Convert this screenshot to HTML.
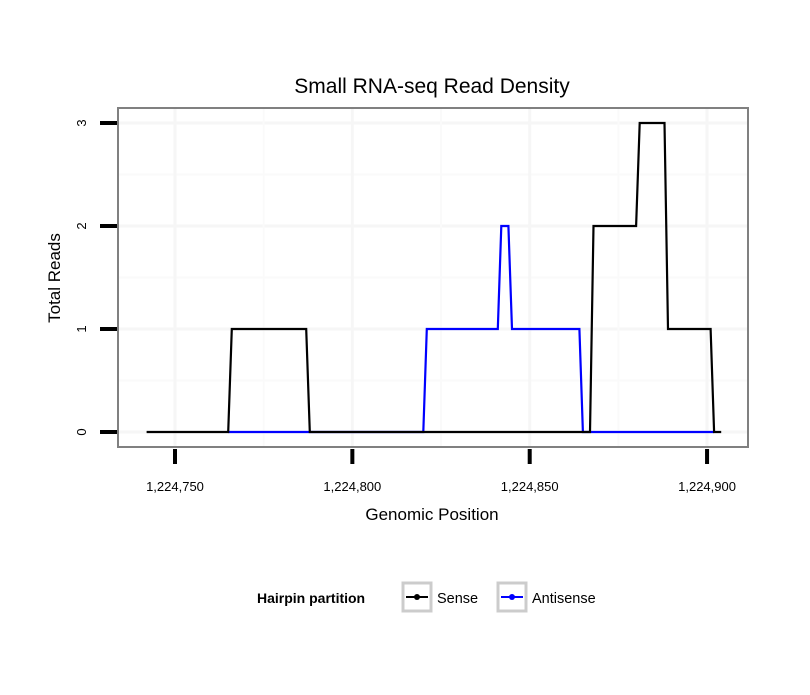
<!DOCTYPE html>
<html><head><meta charset="utf-8"><style>
body{margin:0;background:#fff;font-family:"Liberation Sans",sans-serif}
</style></head><body>
<svg width="810" height="690" xmlns="http://www.w3.org/2000/svg" font-family="Liberation Sans, sans-serif">
<text x="432" y="93" text-anchor="middle" font-size="21">Small RNA-seq Read Density</text>
<rect x="118" y="108" width="630" height="339" fill="#fff"/>
<g id="grid"></g>
<g id="lines"></g>
<rect x="118" y="108" width="630" height="339" fill="none" stroke="#808080" stroke-width="2"/>
<g id="axes"></g>
<text x="432" y="520" text-anchor="middle" font-size="17">Genomic Position</text>
<text transform="translate(60,278) rotate(-90)" text-anchor="middle" font-size="17">Total Reads</text>
<g>
<text x="257" y="603" font-size="14" font-weight="bold">Hairpin partition</text>
<g>
<rect x="403" y="583" width="28" height="28" fill="#fff" stroke="#ccc" stroke-width="3"/>
<line x1="406" y1="597" x2="428" y2="597" stroke="#000" stroke-width="2"/><circle cx="417" cy="597" r="3" fill="#000"/>
<text x="437" y="603" font-size="14.5">Sense</text></g>
<g>
<rect x="498" y="583" width="28" height="28" fill="#fff" stroke="#ccc" stroke-width="3"/>
<line x1="501" y1="597" x2="523" y2="597" stroke="#00f" stroke-width="2"/><circle cx="512" cy="597" r="3" fill="#00f"/>
<text x="532" y="603" font-size="14.5">Antisense</text></g>
</g>
</svg>
<script>
const senseX=[1224742,1224765,1224766,1224787,1224788,1224867,1224868,1224880,1224881,1224888,1224889,1224901,1224902,1224904];
const senseY=[0,0,1,1,0,0,2,2,3,3,1,1,0,0];
const antiX=[1224765,1224820,1224821,1224841,1224842,1224844,1224845,1224864,1224865,1224902];
const antiY=[0,0,1,1,2,2,1,1,0,0];
const xTicks=[1224750,1224800,1224850,1224900];
const xTickLabels=["1,224,750","1,224,800","1,224,850","1,224,900"];
const yTicks=[0,1,2,3];
const yTickLabels=["0","1","2","3"];
const NS="http://www.w3.org/2000/svg";
const xs=u=>175+(u-1224750)*3.547;
const ys=v=>432-v*103;
function mk(tag,attrs,parent){const e=document.createElementNS(NS,tag);for(const k in attrs)e.setAttribute(k,attrs[k]);parent.appendChild(e);return e;}
const grid=document.getElementById('grid'),lines=document.getElementById('lines'),axes=document.getElementById('axes');
for(let v=0;v<=3;v+=0.5){const l=mk('line',{x1:118,x2:748,y1:ys(v),y2:ys(v),stroke:v%1?'#fafafa':'#f6f6f6','stroke-width':v%1?2:3},grid);

}
for(let u=1224725;u<=1224925;u+=25){const x=xs(u);if(x<118||x>748)continue;const l=mk('line',{x1:x,x2:x,y1:108,y2:447,stroke:u%50?'#fafafa':'#f6f6f6','stroke-width':u%50?2:3},grid);

}
function path(X,Y,c,name){const d=X.map((u,i)=>(i?'L':'M')+xs(u).toFixed(1)+','+ys(Y[i]).toFixed(1)).join('');
const p=mk('path',{d:d,fill:'none',stroke:c,'stroke-width':2.2},lines);

}
path(antiX,antiY,'#0000ff','antisense-line');
path(senseX,senseY,'#000000','sense-line');
xTicks.forEach((u,i)=>{const x=xs(u);
const t=mk('line',{x1:x,x2:x,y1:449,y2:464,stroke:'#000','stroke-width':4},axes);


const tx=mk('text',{x:x,y:491,'text-anchor':'middle','font-size':13},axes);tx.textContent=xTickLabels[i];

});
yTicks.forEach((v,i)=>{const y=ys(v);
const t=mk('line',{x1:100,x2:117,y1:y,y2:y,stroke:'#000','stroke-width':4},axes);


const tx=mk('text',{transform:`translate(86,${y}) rotate(-90)`,'text-anchor':'middle','font-size':13},axes);tx.textContent=yTickLabels[i];

});
</script>
</body></html>
